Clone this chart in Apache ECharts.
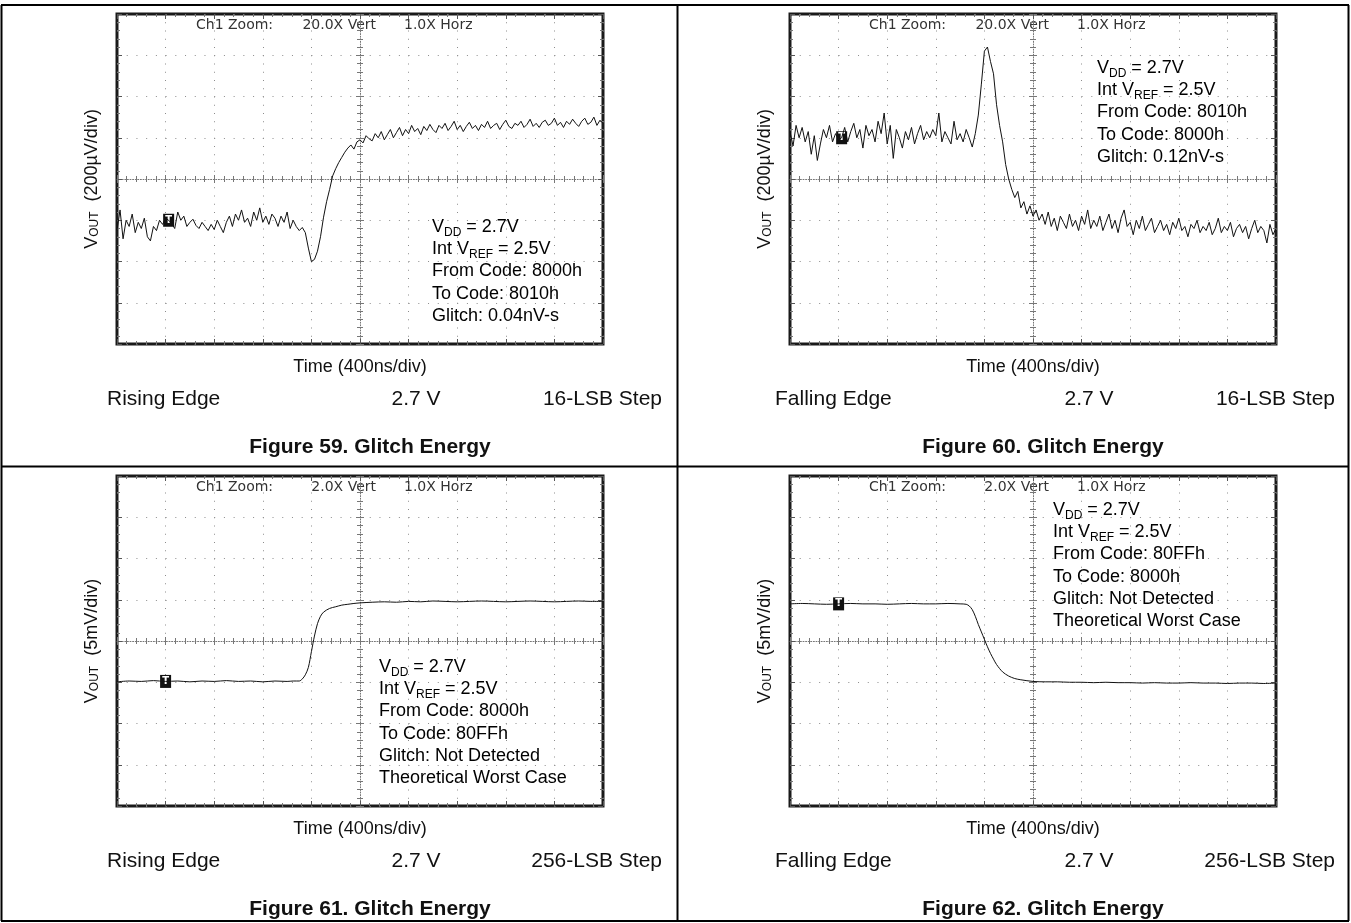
<!DOCTYPE html>
<html>
<head>
<meta charset="utf-8">
<title>Glitch Energy</title>
<script src="https://cdn.jsdelivr.net/npm/echarts@6.0.0/dist/echarts.min.js"></script>
<style>
  html, body { margin: 0; padding: 0; background: #fff; }
  #chart { width: 1351px; height: 923px; }
</style>
</head>
<body>
<div id="chart"></div>
<script>
// 16-LSB traces: one sample every 25 ns, values in µV
const sampleNs = 25
const rise16 = [
  -250, -150, -290, -200, -230, -170, -260, -210, -240, -190, -280,
  -300, -230, -250, -200, -220, -190, -200, -215, -240, -160,
  -200, -180, -230, -210, -195, -225, -240, -210, -230, -250,
  -220, -245, -200, -230, -260, -210, -180, -230, -170, -200,
  -150, -210, -190, -230, -160, -200, -140, -210, -180, -220,
  -170, -190, -230, -180, -210, -160, -240, -200, -230, -250,
  -235, -260, -335, -400, -390, -350, -280, -185, -110, -50,
  15, 50, 80, 105, 130, 150, 165, 145, 180, 190,
  175, 210, 195, 185, 220, 200, 230, 190, 215, 240,
  200, 225, 250, 210, 240, 220, 260, 230, 245, 215,
  255, 235, 265, 240, 225, 260, 245, 270, 235, 255,
  280, 240, 260, 230, 255, 275, 245, 260, 235, 265,
  250, 280, 245, 260, 270, 240, 265, 285, 255, 245,
  270, 260, 280, 250, 265, 290, 255, 270, 250, 275,
  285, 260, 270, 295, 260, 275, 250, 280, 265, 290,
  270, 255, 280, 295, 265, 275, 300, 260, 285, 270
]
const fall16 = [
  230, 160, 260, 200, 250, 180, 230, 120, 210, 90, 170,
  240, 200, 260, 180, 220, 190, 200, 250, 180, 230,
  270, 200, 240, 150, 260, 210, 240, 180, 280, 220,
  320, 170, 260, 100, 240, 200, 150, 230, 190, 250,
  170, 220, 260, 190, 230, 200, 240, 210, 320, 180,
  230, 200, 170, 280, 190, 220, 180, 240, 200, 155,
  220, 310, 460, 620, 640, 570, 510, 360, 260, 180,
  70, 0, -50, -90, -60, -140, -110, -170, -130, -180,
  -150, -200, -170, -220, -160, -230, -190, -250, -180, -210,
  -240, -170, -230, -200, -250, -180, -220, -150, -240, -200,
  -230, -180, -250, -210, -170, -240, -200, -260, -190, -150,
  -230, -210, -270, -200, -240, -180, -250, -220, -190, -260,
  -230, -200, -250, -220, -270, -210, -240, -190, -250, -230,
  -280, -220, -240, -200, -260, -230, -250, -210, -270, -240,
  -190, -260, -230, -250, -210, -280, -240, -220, -260, -230,
  -290, -240, -200, -260, -230, -250, -310, -220, -270, -240
]

// 256-LSB traces: time in ns, values in mV
const rise256Time = [
  0, 100, 200, 300, 400, 500, 600, 700, 800, 900, 1000, 1100, 1200, 1300, 1400,
  1450, 1500, 1525, 1550, 1575, 1600, 1625, 1650, 1675, 1700,
  1750, 1800, 1850, 1900, 1950, 2000,
  2100, 2200, 2300, 2400, 2500, 2600, 2700, 2800, 2900, 3000,
  3100, 3200, 3300, 3400, 3500, 3600, 3700, 3800, 3900, 4000
]
const rise256 = [
  -4.95, -4.85, -4.9, -4.8, -4.9, -4.85, -4.95, -4.85, -4.9, -4.8, -4.9, -4.85, -4.95, -4.85, -4.9,
  -4.85, -4.85, -4.6, -4.1, -3.2, -1.3, 0.6, 2.1, 3.0, 3.5,
  3.95, 4.15, 4.35, 4.45, 4.55, 4.62,
  4.7, 4.75, 4.7, 4.8, 4.75, 4.85, 4.8, 4.75, 4.8, 4.85,
  4.8, 4.75, 4.8, 4.85, 4.8, 4.75, 4.8, 4.85, 4.8, 4.8
]
const fall256Time = [
  0, 100, 200, 300, 400, 500, 600, 700, 800, 900, 1000, 1100, 1200, 1300, 1400,
  1450, 1475, 1500, 1525, 1550, 1575, 1600, 1625, 1650, 1675, 1700,
  1750, 1800, 1850, 1900,
  2000, 2100, 2200, 2300, 2400, 2500, 2600, 2700, 2800, 2900, 3000,
  3100, 3200, 3300, 3400, 3500, 3600, 3700, 3800, 3900, 4000
]
const fall256 = [
  4.5, 4.55, 4.5, 4.45, 4.5, 4.55, 4.5, 4.5, 4.45, 4.5, 4.55, 4.5, 4.5, 4.55, 4.5,
  4.45, 4.25, 3.8, 3.0, 2.0, 1.1, 0.2, -0.7, -1.5, -2.2, -2.85,
  -3.75, -4.25, -4.55, -4.7,
  -4.9, -4.95, -4.95, -5.0, -5.0, -5.05, -5.0, -5.05, -5.05, -5.1, -5.05,
  -5.1, -5.1, -5.05, -5.1, -5.1, -5.15, -5.1, -5.1, -5.15, -5.1
]

const triggerNs = 425
const timeMax = 4000
const timeDiv = 400
const vRange = [800, 800, 20, 20]
const vDiv = [200, 200, 5, 5]

const zoomVert = ['20.0X Vert', '20.0X Vert', '2.0X Vert', '2.0X Vert']
const yUnits = ['200µV/div', '200µV/div', '5mV/div', '5mV/div']
const edgeLabels = ['Rising Edge', 'Falling Edge', 'Rising Edge', 'Falling Edge']
const supplyLabel = '2.7 V'
const stepLabels = ['16-LSB Step', '16-LSB Step', '256-LSB Step', '256-LSB Step']
const figureTitles = [
  'Figure 59. Glitch Energy', 'Figure 60. Glitch Energy',
  'Figure 61. Glitch Energy', 'Figure 62. Glitch Energy'
]
const notes = [
  ['{a|V}{s|DD}{a| = 2.7V}', '{a|Int V}{s|REF}{a| = 2.5V}', '{a|From Code: 8000h}', '{a|To Code: 8010h}', '{a|Glitch: 0.04nV-s}'],
  ['{a|V}{s|DD}{a| = 2.7V}', '{a|Int V}{s|REF}{a| = 2.5V}', '{a|From Code: 8010h}', '{a|To Code: 8000h}', '{a|Glitch: 0.12nV-s}'],
  ['{a|V}{s|DD}{a| = 2.7V}', '{a|Int V}{s|REF}{a| = 2.5V}', '{a|From Code: 8000h}', '{a|To Code: 80FFh}', '{a|Glitch: Not Detected}', '{a|Theoretical Worst Case}'],
  ['{a|V}{s|DD}{a| = 2.7V}', '{a|Int V}{s|REF}{a| = 2.5V}', '{a|From Code: 80FFh}', '{a|To Code: 8000h}', '{a|Glitch: Not Detected}', '{a|Theoretical Worst Case}']
]

const traces = [
  rise16.map((v, i) => [i * sampleNs, v]),
  fall16.map((v, i) => [i * sampleNs, v]),
  rise256Time.map((t, i) => [t, rise256[i]]),
  fall256Time.map((t, i) => [t, fall256[i]])
]

// screen layout of each scope box
const boxW = 486
const boxH = 330
const panels = [
  { left: 117, top: 14, noteX: 315, noteY: 202, edgeX: -10 },
  { left: 790, top: 14, noteX: 307, noteY: 43, edgeX: -15 },
  { left: 117, top: 476, noteX: 262, noteY: 180, edgeX: -10 },
  { left: 790, top: 476, noteX: 263, noteY: 23, edgeX: -15 }
]

const ink = '#111'
const dotColor = '#8c8c8c'
const sans = 'Liberation Sans'

const edgeTick = { show: true, inside: true, length: 5, lineStyle: { color: '#555', width: 1 } }
const edgeMinor = { show: true, splitNumber: 5, length: 3, lineStyle: { color: '#777', width: 1 } }
const centerLine = { show: true, onZero: false, lineStyle: { color: '#777', width: 1, type: [1, 1.6] } }
const centerMinor = { show: true, splitNumber: 5, length: 3, lineStyle: { color: '#777', width: 1 } }

const nameRich = {
  v: { fontSize: 18, fontFamily: sans, color: ink },
  s: { fontSize: 12, fontFamily: sans, color: ink, verticalAlign: 'bottom', lineHeight: 9 }
}

const nearest = (data, t) => data.reduce((best, p) => Math.abs(p[0] - t) < Math.abs(best[0] - t) ? p : best)

const xAxes = []
const yAxes = []
const grids = []
const series = []

panels.forEach((p, g) => {
  grids.push({ left: p.left, top: p.top, width: boxW, height: boxH, show: true, borderColor: '#1a1a1a', borderWidth: 3 })

  const xb = { type: 'value', gridIndex: g, min: 0, max: timeMax, interval: timeDiv, axisLabel: { show: false }, splitLine: { show: false } }
  xAxes.push(
    {
      ...xb, position: 'bottom',
      name: 'Time (400ns/div)', nameLocation: 'middle', nameGap: 23,
      nameTextStyle: { fontSize: 18, fontFamily: sans, color: ink, verticalAlign: 'middle' },
      axisLine: { show: false, onZero: false }, axisTick: edgeTick, minorTick: edgeMinor,
      splitLine: { show: true, lineStyle: { color: dotColor, width: 1, type: [1, 7.25] } }
    },
    { ...xb, position: 'top', axisLine: { show: false, onZero: false }, axisTick: edgeTick, minorTick: edgeMinor },
    { ...xb, position: 'bottom', offset: -boxH / 2, axisLine: centerLine, axisTick: { show: true, inside: true, length: 4, lineStyle: { color: '#777' } }, minorTick: centerMinor },
    { ...xb, position: 'bottom', offset: -boxH / 2, axisLine: { show: false, onZero: false }, axisTick: { show: true, inside: false, length: 4, lineStyle: { color: '#777' } }, minorTick: centerMinor }
  )

  const yb = { type: 'value', gridIndex: g, min: -vRange[g], max: vRange[g], interval: vDiv[g], axisLabel: { show: false }, splitLine: { show: false } }
  yAxes.push(
    {
      ...yb, position: 'left',
      name: `{v|V}{s|OUT}{v|  (${yUnits[g]})}`, nameLocation: 'middle', nameGap: 25,
      nameTextStyle: { verticalAlign: 'middle', rich: nameRich },
      axisLine: { show: false, onZero: false }, axisTick: edgeTick, minorTick: edgeMinor,
      splitLine: { show: true, lineStyle: { color: dotColor, width: 1, type: [1, 8.72] } }
    },
    { ...yb, position: 'right', axisLine: { show: false, onZero: false }, axisTick: edgeTick, minorTick: edgeMinor },
    { ...yb, position: 'left', offset: -boxW / 2, axisLine: centerLine, axisTick: { show: true, inside: true, length: 4, lineStyle: { color: '#777' } }, minorTick: centerMinor },
    { ...yb, position: 'left', offset: -boxW / 2, axisLine: { show: false, onZero: false }, axisTick: { show: true, inside: false, length: 4, lineStyle: { color: '#777' } }, minorTick: centerMinor }
  )

  series.push({
    type: 'line',
    xAxisIndex: g * 4,
    yAxisIndex: g * 4,
    data: traces[g],
    symbol: 'none',
    smooth: g > 1 ? 0.3 : false,
    lineStyle: { color: ink, width: 1 },
    z: 5,
    markPoint: {
      symbol: 'rect',
      symbolSize: [11, 13],
      itemStyle: { color: ink },
      label: { show: true, position: 'inside', formatter: 'T', color: '#fff', fontSize: 10, fontWeight: 'bold', fontFamily: 'DejaVu Sans' },
      data: [{ coord: nearest(traces[g], triggerNs) }]
    }
  })
})

// table frame around the four figures
const frame = [
  [1, 5, 1349, 5], [1, 466.5, 1349, 466.5], [1, 921, 1349, 921],
  [1.5, 5, 1.5, 921], [677.5, 5, 677.5, 921], [1348.5, 5, 1348.5, 921]
]
const graphic = frame.map(([x1, y1, x2, y2]) => ({
  type: 'line', silent: true,
  shape: { x1, y1, x2, y2 },
  style: { stroke: '#000', lineWidth: 2 }
}))

const noteRich = {
  a: { fontSize: 18, fontFamily: sans, color: ink, lineHeight: 22.2 },
  s: { fontSize: 12, fontFamily: sans, color: ink, verticalAlign: 'bottom', lineHeight: 9 }
}
const scopeFont = { fontSize: 14, fontFamily: 'DejaVu Sans', fill: '#333', verticalAlign: 'middle' }

panels.forEach((p, g) => {
  graphic.push(
    { type: 'text', x: p.left + 79, y: p.top + 11.5, style: { ...scopeFont, text: 'Ch1 Zoom:', align: 'left' } },
    { type: 'text', x: p.left + 259, y: p.top + 11.5, style: { ...scopeFont, text: zoomVert[g], align: 'right' } },
    { type: 'text', x: p.left + 287, y: p.top + 11.5, style: { ...scopeFont, text: '1.0X Horz', align: 'left' } },
    {
      type: 'text', x: p.left + p.noteX, y: p.top + p.noteY, z: 10,
      style: { text: notes[g].join('\n'), rich: noteRich, align: 'left', verticalAlign: 'top' }
    },
    { type: 'text', x: p.left + p.edgeX, y: p.top + 385, style: { text: edgeLabels[g], fontSize: 21, fontFamily: sans, fill: ink, align: 'left', verticalAlign: 'middle' } },
    { type: 'text', x: p.left + 299, y: p.top + 385, style: { text: supplyLabel, fontSize: 21, fontFamily: sans, fill: ink, align: 'center', verticalAlign: 'middle' } },
    { type: 'text', x: p.left + 545, y: p.top + 385, style: { text: stepLabels[g], fontSize: 21, fontFamily: sans, fill: ink, align: 'right', verticalAlign: 'middle' } },
    { type: 'text', x: p.left + 253, y: p.top + 433, style: { text: figureTitles[g], fontSize: 21, fontWeight: 'bold', fontFamily: sans, fill: ink, align: 'center', verticalAlign: 'middle' } }
  )
})

const chart = echarts.init(document.getElementById('chart'))
chart.setOption({
  backgroundColor: '#fff',
  animation: false,
  grid: grids,
  xAxis: xAxes,
  yAxis: yAxes,
  series,
  graphic
})

window.addEventListener('resize', () => chart.resize())
</script>
</body>
</html>
